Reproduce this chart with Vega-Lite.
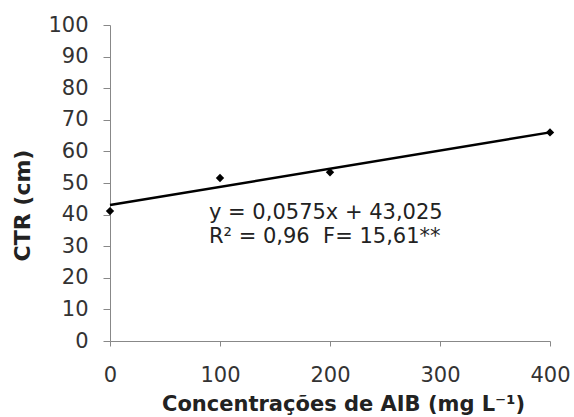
{
  "$schema": "https://vega.github.io/schema/vega-lite/v6.json",
  "width": 440,
  "height": 316,
  "autosize": "none",
  "padding": {"left": 110, "top": 25, "right": 24, "bottom": 76},
  "background": "white",
  "config": {
    "view": {"stroke": null},
    "font": "DejaVu Sans",
    "axis": {"grid": false, "domainColor": "#888", "tickColor": "#888", "labelColor": "#333", "labelFont": "DejaVu Sans", "labelFontSize": 21, "titleFont": "DejaVu Sans", "titleFontSize": 21, "titleColor": "#222", "titleFontWeight": "bold", "labelOverlap": false, "labelBound": false, "labelFlush": false}
  },
  "datasets": {
    "pts": [
      {"conc": 0, "ctr": 41.1},
      {"conc": 100, "ctr": 51.6},
      {"conc": 200, "ctr": 53.4},
      {"conc": 400, "ctr": 66.0}
    ],
    "fit": [
      {"conc": 0, "ctr": 43.025},
      {"conc": 400, "ctr": 66.025}
    ],
    "ann": [
      {"conc": 90, "ctr": 40.5, "label": "y = 0,0575x + 43,025"},
      {"conc": 90, "ctr": 33.0, "label": "R² = 0,96\u00a0 F= 15,61**"}
    ]
  },
  "encoding": {
    "x": {"field": "conc", "type": "quantitative", "scale": {"domain": [0, 400], "nice": false},
      "axis": {"values": [0, 100, 200, 300, 400], "tickCount": 20, "title": "Concentrações de AIB (mg L⁻¹)", "tickSize": 5, "labelPadding": 18, "titleX": 233, "titleY": 69, "titleBaseline": "alphabetic", "titleAnchor": "middle"}},
    "y": {"field": "ctr", "type": "quantitative", "scale": {"domain": [0, 100], "nice": false},
      "axis": {"values": [0,10,20,30,40,50,60,70,80,90,100], "tickCount": 20, "title": "CTR (cm)", "titleFontSize": 22, "tickSize": 7, "labelPadding": 15, "titleX": -88, "titleY": 180, "titleAngle": -90, "titleBaseline": "middle", "titleAlign": "center"}}
  },
  "layer": [
    {
      "data": {"name": "fit"},
      "mark": {"type": "line", "color": "black", "strokeWidth": 2.5}
    },
    {
      "data": {"name": "pts"},
      "mark": {"type": "point", "shape": "diamond", "filled": true, "color": "black", "size": 70, "opacity": 1}
    },
    {
      "data": {"name": "ann"},
      "mark": {"type": "text", "align": "left", "baseline": "middle", "fontSize": 21, "font": "DejaVu Sans", "color": "#222"},
      "encoding": {
        "text": {"field": "label"}
      }
    }
  ]
}
